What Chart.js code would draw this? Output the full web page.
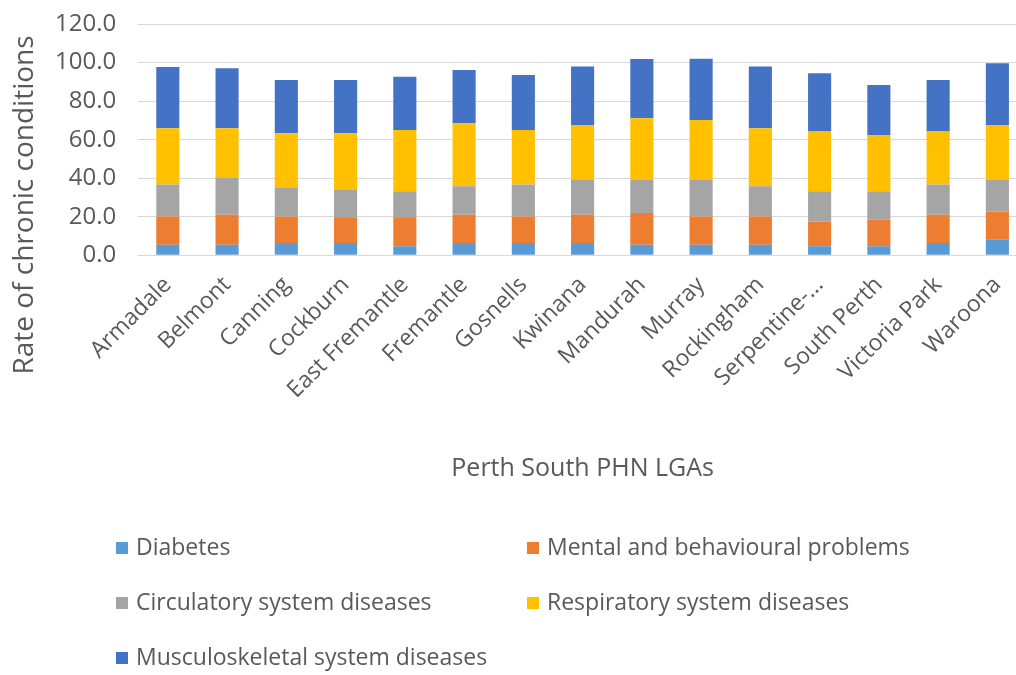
<!DOCTYPE html>
<html>
<head>
<meta charset="utf-8">
<script src="https://cdn.jsdelivr.net/npm/chart.js@4"></script>
<style>
  body { margin: 0; background: #fff; overflow: hidden; }
  #wrap { width: 1030px; height: 675px; overflow: hidden; }
  #myChart { display: block; margin-top: -10px; }
</style>
</head>
<body>
<div id="wrap"><canvas id="myChart" width="1030" height="685"></canvas></div>
<script>
const lgas = ["Armadale", "Belmont", "Canning", "Cockburn", "East Fremantle", "Fremantle", "Gosnells",
  "Kwinana", "Mandurah", "Murray", "Rockingham", "Serpentine-...", "South Perth", "Victoria Park", "Waroona"];
const diabetes = [5.5, 5.5, 6.4, 6.4, 4.7, 6.4, 6.4, 6.4, 5.5, 5.5, 5.5, 4.7, 4.7, 6.4, 8.1];
const mental = [14.7, 15.6, 13.8, 13.0, 14.7, 14.7, 13.8, 14.7, 16.5, 14.7, 14.7, 12.9, 13.8, 14.7, 14.7];
const circulatory = [16.5, 19.0, 14.7, 14.5, 13.8, 14.7, 16.5, 18.0, 17.1, 18.9, 15.6, 15.6, 14.7, 15.6, 16.3];
const respiratory = [29.2, 25.8, 28.4, 29.4, 31.8, 32.7, 28.3, 28.5, 32.0, 31.1, 30.1, 31.0, 29.2, 27.5, 28.5];
const musculoskeletal = [31.8, 31.1, 27.7, 27.7, 27.7, 27.6, 28.5, 30.3, 30.7, 31.8, 32.0, 30.2, 26.0, 26.8, 32.0];
const seriesNames = ["Diabetes", "Mental and behavioural problems", "Circulatory system diseases",
  "Respiratory system diseases", "Musculoskeletal system diseases"];
const palette = ["#5B9BD5", "#ED7D31", "#A5A5A5", "#FFC000", "#4472C4"];
const yTicks = [0, 20, 40, 60, 80, 100, 120];
const yTitle = "Rate of chronic conditions";

const textColor = "#595959";
const fontFamily = "'Open Sans', sans-serif";

// legend in two columns and the y title centred on the whole chart, like the Excel original
// (canvas is shifted up 10px, so y positions here are +10)
const excelBits = {
  id: "excelBits",
  afterDraw(chart) {
    const ctx = chart.ctx;
    const cols = [116, 527];
    const rows = [558, 613, 668];
    ctx.save();
    ctx.font = "23px " + fontFamily;
    ctx.textBaseline = "middle";
    chart.data.datasets.forEach((ds, i) => {
      const x = cols[i % 2];
      const y = rows[Math.floor(i / 2)];
      ctx.fillStyle = ds.backgroundColor;
      ctx.fillRect(x, y - 6, 12, 12);
      ctx.fillStyle = textColor;
      ctx.fillText(ds.label, x + 20, y);
    });
    ctx.translate(25, 215);
    ctx.rotate(-Math.PI / 2);
    ctx.textAlign = "center";
    ctx.font = "28px " + fontFamily;
    ctx.fillText(yTitle, 0, 0);
    ctx.restore();
  },
};

const values = [diabetes, mental, circulatory, respiratory, musculoskeletal];
new Chart(document.getElementById("myChart"), {
  type: "bar",
  data: {
    labels: lgas,
    datasets: seriesNames.map((name, i) => ({
      label: name,
      data: values[i],
      backgroundColor: palette[i],
      barPercentage: 0.39,
      categoryPercentage: 1.0,
    })),
  },
  options: {
    responsive: false,
    animation: false,
    layout: { padding: { left: 33, right: 3, top: 0, bottom: 191 } },
    plugins: { legend: { display: false }, tooltip: { enabled: false } },
    scales: {
      x: {
        stacked: true,
        grid: { display: false },
        border: { display: false },
        ticks: {
          color: textColor,
          font: { family: fontFamily, size: 23 },
          minRotation: 45,
          maxRotation: 45,
          autoSkip: false,
          padding: 8,
        },
        title: {
          display: true,
          text: "Perth South PHN LGAs",
          color: textColor,
          font: { family: fontFamily, size: 25 },
          padding: { top: 42, bottom: 0 },
        },
      },
      y: {
        stacked: true,
        min: 0,
        max: 120,
        afterBuildTicks: (axis) => { axis.ticks = yTicks.map((v) => ({ value: v })); },
        grid: { color: "#d9d9d9", drawTicks: false },
        border: { display: false },
        ticks: {
          color: textColor,
          font: { family: fontFamily, size: 24, lineHeight: 1.0 },
          padding: 22,
          callback: (v) => Number(v).toFixed(1),
        },
      },
    },
  },
  plugins: [excelBits],
});
</script>
</body>
</html>
